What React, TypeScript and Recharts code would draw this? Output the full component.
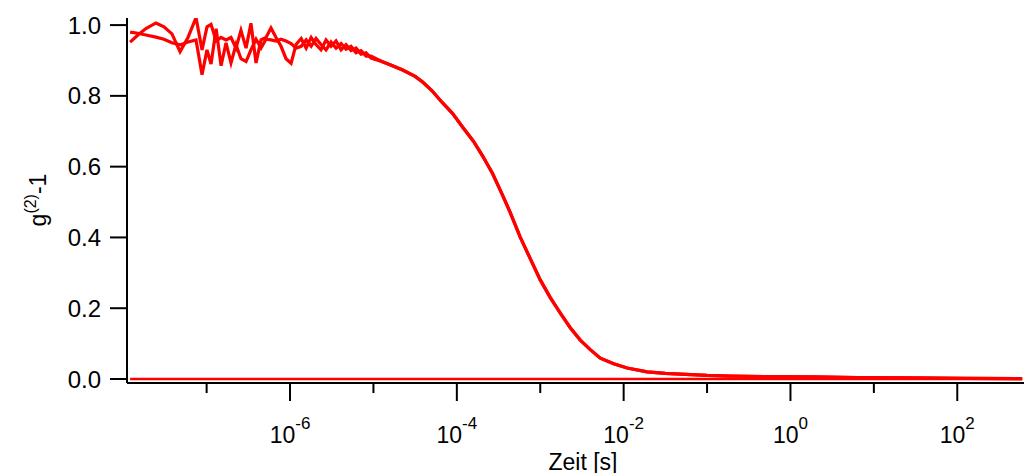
import React from "react";
import { LineChart, Line, XAxis, YAxis, Label } from "recharts";

// lag times (s) of the noisy early part
const tauHead = [
  1.21e-8, 1.5e-8, 1.87e-8, 2.47e-8, 3.08e-8, 3.84e-8, 4.8e-8, 5.98e-8, 7.46e-8, 8.81e-8,
  1.01e-7, 1.13e-7, 1.3e-7, 1.49e-7, 1.71e-7, 1.96e-7, 2.25e-7, 2.58e-7, 2.97e-7, 3.4e-7,
  3.91e-7, 4.49e-7, 5.15e-7, 5.91e-7, 6.79e-7, 7.8e-7, 8.95e-7, 1.03e-6, 1.18e-6, 1.36e-6,
  1.56e-6, 1.79e-6, 2.05e-6, 2.35e-6, 2.7e-6, 3.1e-6, 3.56e-6, 4.09e-6, 4.69e-6, 5.39e-6,
  6.18e-6, 7.1e-6, 8.15e-6, 9.35e-6,
];
const headA = [
  0.952, 0.972, 0.99, 1.006, 0.995, 0.975, 0.925, 0.965, 1.021, 0.93,
  0.995, 1.002, 0.955, 0.965, 0.958, 0.965, 0.935, 0.985, 0.935, 1.005,
  0.893, 0.958, 0.965, 0.992, 0.965, 0.94, 0.905, 0.892, 0.945, 0.962,
  0.935, 0.965, 0.945, 0.93, 0.958, 0.94, 0.955, 0.93, 0.945, 0.928,
  0.935, 0.918, 0.922, 0.907,
];
const headB = [
  0.98, 0.977, 0.972, 0.966, 0.96, 0.95, 0.944, 0.952, 0.958, 0.86,
  0.93, 0.89, 0.99, 0.885, 0.95, 0.893, 0.945, 0.905, 0.897, 0.93,
  0.96, 0.935, 0.96, 0.958, 0.955, 0.96, 0.955, 0.948, 0.935, 0.94,
  0.958, 0.94, 0.962, 0.945, 0.93, 0.952, 0.935, 0.948, 0.932, 0.94,
  0.922, 0.928, 0.912, 0.912,
];
// common smooth decay
const tauTail = [
  1.26e-5, 1.58e-5, 2.24e-5, 3.16e-5, 3.89e-5, 5.01e-5, 6.76e-5, 8.91e-5, 1.17e-4, 1.58e-4,
  2.04e-4, 2.69e-4, 3.55e-4, 4.37e-4, 5.75e-4, 7.59e-4, 1.0e-3, 1.32e-3, 1.74e-3, 2.29e-3,
  3.02e-3, 3.98e-3, 5.25e-3, 7.59e-3, 1.1e-2, 1.91e-2, 3.16e-2, 4.79e-2, 0.1, 0.19,
  0.5, 1.86, 6.3, 29.5, 126, 600,
];
const tail = [
  0.897, 0.888, 0.873, 0.855, 0.839, 0.815, 0.78, 0.75, 0.712, 0.672,
  0.63, 0.58, 0.518, 0.47, 0.401, 0.34, 0.28, 0.23, 0.186, 0.145,
  0.11, 0.083, 0.059, 0.043, 0.031, 0.02, 0.016, 0.014, 0.01, 0.008,
  0.007, 0.006, 0.004, 0.003, 0.002, 0.001,
];
const tauBase = [1.21e-8, 600];
const base = [0, 0];

const xTicks = [1e-7, 1e-6, 1e-5, 1e-4, 1e-3, 1e-2, 1e-1, 1e0, 1e1, 1e2];
const yTicks = [0, 0.2, 0.4, 0.6, 0.8, 1.0];

const seriesA = [
  ...tauHead.map((t, i) => ({ t, g: headA[i] })),
  ...tauTail.map((t, i) => ({ t, g: tail[i] })),
];
const seriesB = [
  ...tauHead.map((t, i) => ({ t, g: headB[i] })),
  ...tauTail.map((t, i) => ({ t, g: tail[i] })),
];
const baseline = tauBase.map((t, i) => ({ t, g: base[i] }));

const FONT = "'Liberation Sans', Arial, sans-serif";

const XTick = (props: any) => {
  const { x, y, payload } = props;
  const e = Math.round(Math.log10(payload.value));
  const major = e % 2 === 0;
  return (
    <g>
      <line x1={x} y1={y} x2={x} y2={y + (major ? 18 : 10)} stroke="#000" strokeWidth={2} />
      {major && (
        <text x={x} y={y + 60} textAnchor="middle" fontFamily={FONT} fontSize={23} fill="#000">
          10
          <tspan dy={-14} fontSize={17}>{String(e)}</tspan>
        </text>
      )}
    </g>
  );
};

export default function App() {
  return (
    <div style={{ position: "absolute", left: 0, top: 0, background: "#fff" }}>
      <LineChart
        width={1024}
        height={473}
        margin={{ top: 18, right: 0, bottom: 30, left: 67 }}
      >
        <XAxis
          dataKey="t"
          type="number"
          scale="log"
          domain={[1.11e-8, 631]}
          ticks={xTicks}
          allowDataOverflow
          height={60}
          tickSize={0}
          tickMargin={0}
          tickLine={false}
          tick={<XTick />}
          axisLine={{ stroke: "#000", strokeWidth: 2 }}
          interval={0}
        >
          <Label
            content={() => (
              <text x={583} y={470} textAnchor="middle" fontFamily={FONT} fontSize={23} fill="#000">
                Zeit [s]
              </text>
            )}
          />
        </XAxis>
        <YAxis
          type="number"
          domain={[-0.0113, 1.02]}
          ticks={yTicks}
          allowDataOverflow
          width={60}
          tickSize={17}
          tickMargin={9}
          tickFormatter={(v: number) => v.toFixed(1)}
          tick={{ fill: "#000", fontSize: 24, fontFamily: FONT }}
          tickLine={{ stroke: "#000", strokeWidth: 2 }}
          axisLine={{ stroke: "#000", strokeWidth: 2 }}
          interval={0}
        >
          <Label
            content={() => (
              <text
                transform="translate(46,200) rotate(-90)"
                textAnchor="middle"
                fontFamily={FONT}
                fontSize={23}
                fill="#000"
              >
                g
                <tspan dy={-10} fontSize={16}>(2)</tspan>
                <tspan dy={10}>-1</tspan>
              </text>
            )}
          />
        </YAxis>
        <Line data={baseline} dataKey="g" stroke="#ff0000" strokeWidth={2.5} dot={false} isAnimationActive={false} />
        <Line data={seriesB} dataKey="g" stroke="#ff0000" strokeWidth={3.2} dot={false} isAnimationActive={false} />
        <Line data={seriesA} dataKey="g" stroke="#ff0000" strokeWidth={3.2} dot={false} isAnimationActive={false} />
      </LineChart>
    </div>
  );
}
